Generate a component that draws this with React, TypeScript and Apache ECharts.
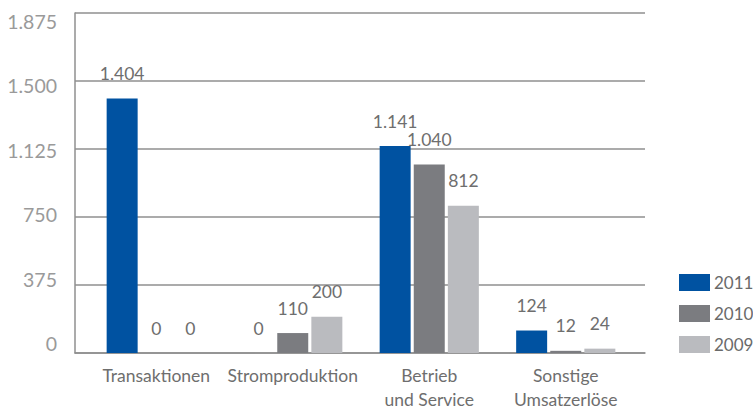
import React, { useEffect, useRef } from "react";
import * as echarts from "echarts";

const categories = ["Transaktionen", "Stromproduktion", "Betrieb\nund Service", "Sonstige\nUmsatzerlöse"];
const seriesNames = ["2011", "2010", "2009"];
const values2011 = [1404, 0, 1141, 124];
const values2010 = [0, 110, 1040, 12];
const values2009 = [0, 200, 812, 24];
const yMin = 0;
const yMax = 1875;
const yInterval = 375;

const colors = ["#0052A1", "#7B7C80", "#BABBBF"];
const FONT = "Lato, 'Open Sans', sans-serif";

const fmt = (v: number) => {
  const s = Math.round(v).toString();
  return s.replace(/\B(?=(\d{3})+(?!\d))/g, ".");
};

export default function App() {
  const ref = useRef<HTMLDivElement>(null);
  useEffect(() => {
    if (!ref.current) return;
    const chart = echarts.init(ref.current, undefined, { renderer: "svg" });
    const allValues = [values2011, values2010, values2009];
    chart.setOption({
      animation: false,
      backgroundColor: "#fff",
      textStyle: { fontFamily: FONT },
      legend: {
        orient: "vertical",
        left: 674,
        top: 269,
        itemWidth: 31,
        itemHeight: 17,
        itemGap: 14,
        icon: "rect",
        data: seriesNames,
        textStyle: { fontSize: 17, color: "#6a6a6a", fontFamily: FONT, padding: [0, 0, 0, -1] },
      },
      grid: [
        { left: 75, right: 108, top: 13, bottom: 59, containLabel: false },
        { left: 88, right: 119, top: 13, bottom: 59, containLabel: false },
        { left: 75, right: 108, top: 21.5, bottom: 68.5, containLabel: false },
      ],
      xAxis: [
        {
          type: "category",
          gridIndex: 0,
          data: categories,
          axisLine: { show: true, lineStyle: { color: "#8f8f8f", width: 1.5 } },
          axisTick: { show: false },
          axisLabel: { show: false },
          splitLine: { show: false },
        },
        {
          type: "category",
          gridIndex: 1,
          data: categories,
          axisLine: { show: false },
          axisTick: { show: false },
          axisLabel: {
            show: true,
            interval: 0,
            margin: 10,
            fontSize: 17.5,
            lineHeight: 24,
            color: "#6e6e6e",
            fontFamily: FONT,
          },
        },
        {
          type: "category",
          gridIndex: 2,
          data: categories,
          show: false,
        },
      ],
      yAxis: [
        {
          type: "value",
          gridIndex: 0,
          min: yMin,
          max: yMax,
          interval: yInterval,
          axisLine: { show: true, lineStyle: { color: "#8f8f8f", width: 1.5 } },
          axisTick: { show: false },
          axisLabel: { show: false },
          splitLine: { show: true, lineStyle: { color: "#8f8f8f", width: 1.5 } },
        },
        {
          type: "value",
          gridIndex: 1,
          min: yMin,
          max: yMax,
          interval: yInterval,
          show: false,
          splitLine: { show: false },
        },
        {
          type: "value",
          gridIndex: 2,
          min: yMin,
          max: yMax,
          interval: yInterval,
          axisLine: { show: false },
          axisTick: { show: false },
          splitLine: { show: false },
          axisLabel: {
            show: true,
            margin: 18,
            fontSize: 19.5,
            color: "#9a9a9a",
            fontFamily: FONT,
            formatter: (v: number) => fmt(v),
          },
        },
      ],
      series: seriesNames.map((name, i) => ({
        name,
        type: "bar",
        xAxisIndex: 1,
        yAxisIndex: 1,
        data: allValues[i],
        barWidth: 31,
        barGap: "10%",
        itemStyle: { color: colors[i] },
        label: {
          show: true,
          position: "top",
          distance: 16,
          fontSize: 17.5,
          color: "#6e6e6e",
          fontFamily: FONT,
          formatter: (p: any) => fmt(p.value),
        },
      })),
    });
    return () => chart.dispose();
  }, []);
  return <div ref={ref} style={{ width: 753, height: 412, position: "absolute", left: 0, top: 0 }} />;
}
